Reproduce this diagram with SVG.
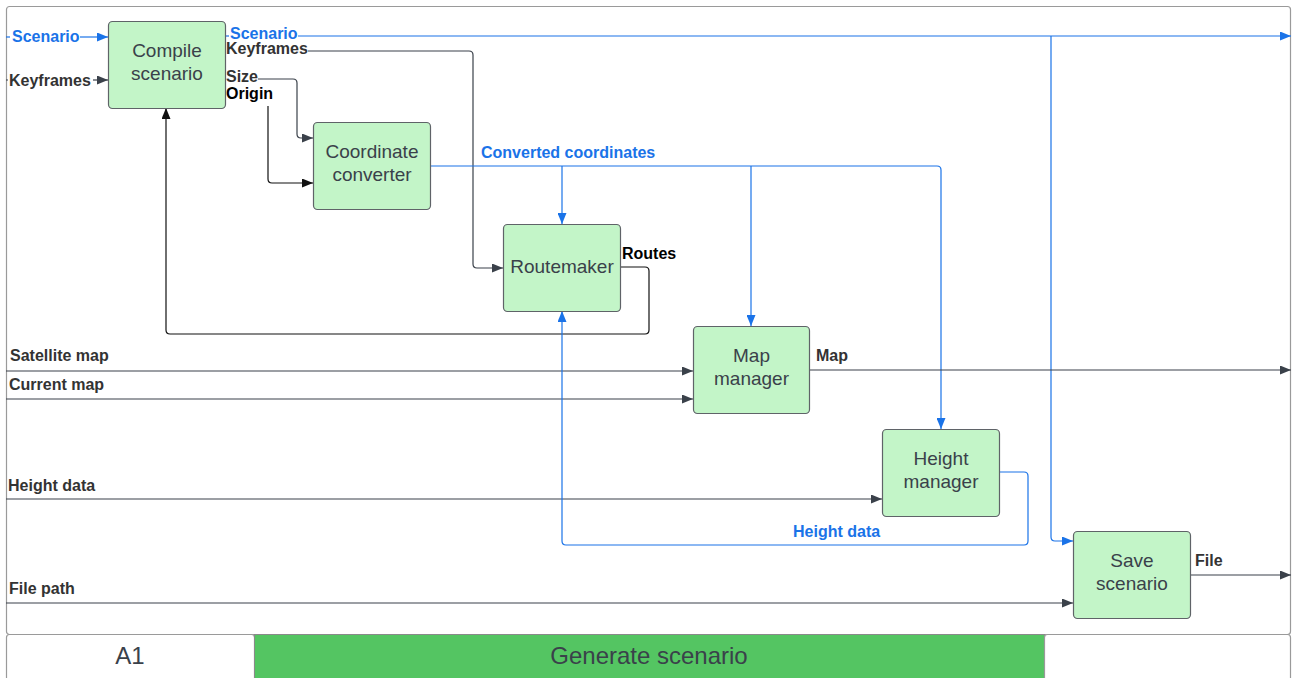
<svg xmlns="http://www.w3.org/2000/svg" width="1292" height="678" viewBox="0 0 1292 678">
  <style>
    .frame { fill: #ffffff; stroke: #9a9a9a; stroke-width: 1.2; }
    .node rect { fill: #c3f5c8; stroke: #5f6368; stroke-width: 1.2; }
    .node text { font-family: "Liberation Sans", Arial, sans-serif; font-size: 19px; fill: #3a414a; text-anchor: middle; }
    .lbl { font-family: "Liberation Sans", Arial, sans-serif; font-size: 16px; font-weight: bold; fill: #333333; }
    .lbl.blue { fill: #1a73e8; }
    .lbl.black { fill: #000000; }
    .c { fill: none; stroke-width: 1.2; }
    .dark { stroke: #3a414a; marker-end: url(#ah-dark); }
    .blk { stroke: #111111; marker-end: url(#ah-blk); }
    .blu { stroke: #1a73e8; marker-end: url(#ah-blue); }
    .plain { marker-end: none; }
    .title { font-family: "Liberation Sans", Arial, sans-serif; font-size: 24px; fill: #3a414a; text-anchor: middle; }
  </style>
  <defs>
    <marker id="ah-dark" markerUnits="userSpaceOnUse" markerWidth="12" markerHeight="9" refX="11" refY="4.5" orient="auto">
      <path d="M0,0 L11,4.5 L0,9 z" fill="#3a414a"/>
    </marker>
    <marker id="ah-blk" markerUnits="userSpaceOnUse" markerWidth="12" markerHeight="9" refX="11" refY="4.5" orient="auto">
      <path d="M0,0 L11,4.5 L0,9 z" fill="#111111"/>
    </marker>
    <marker id="ah-blue" markerUnits="userSpaceOnUse" markerWidth="12" markerHeight="9" refX="11" refY="4.5" orient="auto">
      <path d="M0,0 L11,4.5 L0,9 z" fill="#1a73e8"/>
    </marker>
  </defs>

  <!-- frame and title strip -->
  <rect class="frame" x="6.5" y="6.5" width="1284" height="628" rx="3"/>
  <rect class="frame" x="6.5" y="634.5" width="248" height="50" rx="3"/>
  <rect x="254.5" y="634.5" width="790" height="50" fill="#54c562" stroke="#8a8a8a" stroke-width="1"/>
  <rect class="frame" x="1044.5" y="634.5" width="246" height="50" rx="3"/>
  <text class="title" x="130" y="664">A1</text>
  <text class="title" x="649" y="664">Generate scenario</text>

  <!-- connectors -->
  <g id="connectors">
    <!-- external inputs -->
    <path class="c blu plain" d="M6,37 H10"/>
    <path class="c blu" d="M80,37 H108"/>
    <path class="c dark plain" d="M6,80 H8"/>
    <path class="c dark" d="M93,80 H108"/>
    <path class="c dark" d="M6,371 H693"/>
    <path class="c dark" d="M6,399 H693"/>
    <path class="c dark" d="M6,499 H882"/>
    <path class="c dark" d="M6,603 H1073"/>

    <!-- compiled scenario to output and save -->
    <path class="c blu plain" d="M225,36 H229"/>
    <path class="c blu" d="M298,36 H1291"/>
    <path class="c blu" d="M1051,36 V537 Q1051,541 1055,541 H1073"/>

    <!-- keyframes to routemaker -->
    <path class="c dark" d="M308,51 H469 Q473,51 473,55 V264 Q473,268 477,268 H503"/>
    <!-- size to coordinate converter -->
    <path class="c dark" d="M258,79 H293 Q297,79 297,83 V134 Q297,138 301,138 H313"/>
    <!-- origin to coordinate converter -->
    <path class="c blk" d="M268,106 V179 Q268,183 272,183 H313"/>

    <!-- converted coordinates -->
    <path class="c blu" d="M430,166 H937 Q941,166 941,170 V429"/>
    <path class="c blu" d="M562,166 V224"/>
    <path class="c blu" d="M751,166 V326"/>

    <!-- routes back to compile -->
    <path class="c blk" d="M620,267 H645 Q649,267 649,271 V330 Q649,334 645,334 H170 Q166,334 166,330 V108"/>

    <!-- map output -->
    <path class="c dark" d="M809,370 H1291"/>

    <!-- height data back to routemaker -->
    <path class="c blu" d="M999,472 H1024 Q1028,472 1028,476 V541 Q1028,545 1024,545 H566 Q562,545 562,541 V311"/>

    <!-- file output -->
    <path class="c dark" d="M1190,575 H1291"/>
  </g>

  <!-- connector labels -->
  <g id="labels">
    <text class="lbl blue" x="12" y="42">Scenario</text>
    <text class="lbl" x="9" y="85.5">Keyframes</text>
    <text class="lbl blue" x="230" y="39">Scenario</text>
    <text class="lbl" x="226" y="54">Keyframes</text>
    <text class="lbl" x="226" y="82">Size</text>
    <text class="lbl black" x="226" y="99">Origin</text>
    <text class="lbl blue" x="481" y="157.5">Converted coordinates</text>
    <text class="lbl black" x="622" y="258.5">Routes</text>
    <text class="lbl" x="10" y="360.5">Satellite map</text>
    <text class="lbl" x="9" y="389.5">Current map</text>
    <text class="lbl" x="816" y="360.5">Map</text>
    <text class="lbl" x="8" y="490.5">Height data</text>
    <text class="lbl blue" x="793" y="536.5">Height data</text>
    <text class="lbl" x="9" y="593.5">File path</text>
    <text class="lbl" x="1195" y="565.5">File</text>
  </g>

  <!-- nodes -->
  <g id="compile-scenario" class="node">
    <rect x="108.5" y="21.5" width="117" height="87" rx="4"/>
    <text x="167" y="57">Compile</text>
    <text x="167" y="80">scenario</text>
  </g>
  <g id="coordinate-converter" class="node">
    <rect x="313.5" y="122.5" width="117" height="87" rx="4"/>
    <text x="372" y="158">Coordinate</text>
    <text x="372" y="181">converter</text>
  </g>
  <g id="routemaker" class="node">
    <rect x="503.5" y="224.5" width="117" height="87" rx="4"/>
    <text x="562" y="273">Routemaker</text>
  </g>
  <g id="map-manager" class="node">
    <rect x="693.5" y="326.5" width="116" height="87" rx="4"/>
    <text x="751.5" y="362">Map</text>
    <text x="751.5" y="385">manager</text>
  </g>
  <g id="height-manager" class="node">
    <rect x="882.5" y="429.5" width="117" height="87" rx="4"/>
    <text x="941" y="465">Height</text>
    <text x="941" y="488">manager</text>
  </g>
  <g id="save-scenario" class="node">
    <rect x="1073.5" y="531.5" width="117" height="87" rx="4"/>
    <text x="1132" y="567">Save</text>
    <text x="1132" y="590">scenario</text>
  </g>
</svg>
